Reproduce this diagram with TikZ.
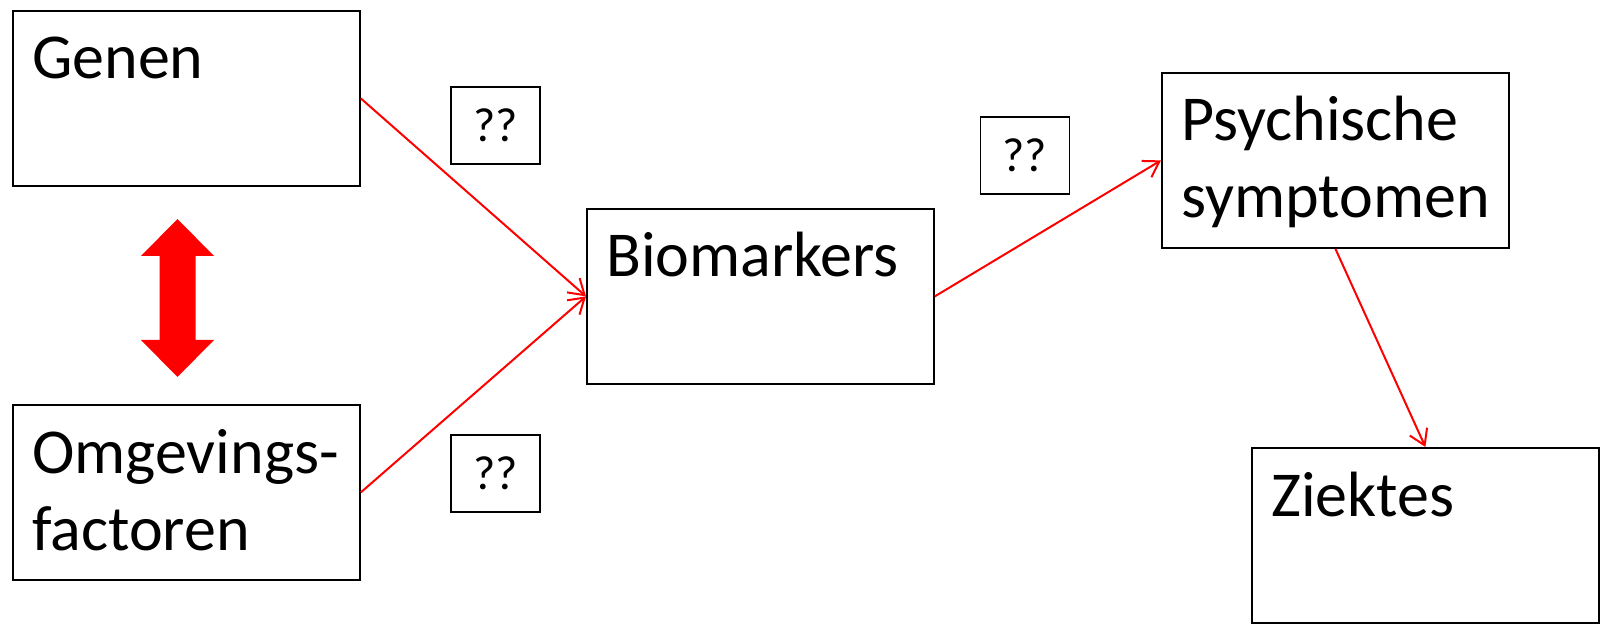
\documentclass[tikz,border=0pt]{standalone}
\usepackage{fontspec}
\setmainfont{Carlito}
\usetikzlibrary{arrows.meta}
\begin{document}
\begin{tikzpicture}[x=1pt,y=-1pt,
  box/.style={draw=black, line width=1.8pt, minimum width=347pt, minimum height=175pt, inner sep=0pt, anchor=north west},
  qbox/.style={draw=black, line width=1.8pt, minimum width=89pt, minimum height=77pt, inner sep=0pt, font=\fontsize{48}{58}\selectfont},
  lbl/.style={anchor=base west, inner sep=0pt, font=\fontsize{64}{77}\selectfont, align=left},
  link/.style={draw=red, line width=2pt, -{Straight Barb[length=15pt,width=19pt]}}]
\useasboundingbox (0,0) rectangle (1604,628);
\fill[white] (0,0) rectangle (1604,628);

% main boxes
\node[box] (genen) at (12,10) {};
\node[box] (omg)   at (12,404) {};
\node[box] (bio)   at (586,208) {};
\node[box] (psy)   at (1161,72) {};
\node[box] (zie)   at (1251,447) {};

% box texts (base anchor sits on the last line's baseline)
\node[lbl] (tgenen) at ([shift={(20,69)}]genen.north west) {Genen};
\node[lbl] (tomg)   at ([shift={(20,146)}]omg.north west) {Omgevings-\\factoren};
\node[lbl] (tbio)   at ([shift={(20,69)}]bio.north west) {Biomarkers};
\node[lbl] (tpsy)   at ([shift={(20,146)}]psy.north west) {Psychische\\symptomen};
\node[lbl] (tzie)   at ([shift={(20,69)}]zie.north west) {Ziektes};

% question boxes
\node[qbox] (q1) at (495.5,125.5) {??};
\node[qbox] (q2) at (495.5,473.5) {??};
\node[qbox] (q3) at (1025,155.5) {??};

% two-way block arrow between genes and environment
\fill[red] (177.5,219) -- (214,256) -- (195.5,256) -- (195.5,340) -- (214,340)
  -- (177.5,377) -- (141,340) -- (159.5,340) -- (159.5,256) -- (141,256) -- cycle;

% connectors
\draw[link] (genen.east) -- (bio.west);
\draw[link] (omg.east) -- (bio.west);
\draw[link] (bio.east) -- (psy.west);
\draw[link] (psy.south) -- (zie.north);
\end{tikzpicture}
\end{document}
